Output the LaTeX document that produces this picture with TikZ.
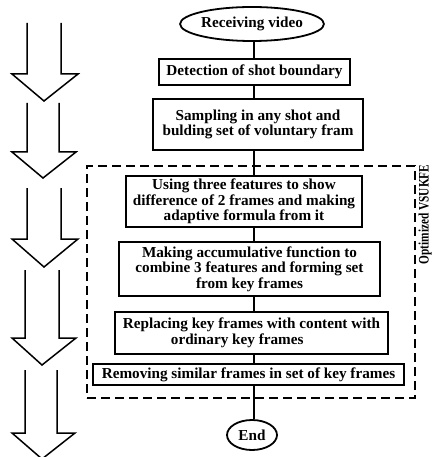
\documentclass[tikz,border=0pt]{standalone}
\usepackage{fontspec}
\setmainfont{Liberation Serif}
\usetikzlibrary{shapes.geometric}
\begin{document}
\begin{tikzpicture}[x=1pt,y=-1pt,
  every node/.style={font=\bfseries\fontsize{15.2}{15.5}\selectfont, inner sep=0pt, align=center},
  box/.style={draw, line width=1.8pt, rectangle},
  oval/.style={draw, line width=1.8pt, ellipse},
  link/.style={line width=1.8pt},
  bigarrow/.style={line width=1.5pt, line join=miter},
  group/.style={draw, line width=1.2pt, dash pattern=on 9pt off 5pt},
  grouplabel/.style={rotate=90, anchor=base, font=\bfseries\fontsize{14.5}{15}\selectfont}]
\useasboundingbox (0,0) rectangle (431,457);
\fill[white] (0,0) rectangle (431,457);
\coordinate (spine) at (254,0);

% left big arrows
\draw[bigarrow] (27,23) -- (27,74) -- (12,74) -- (44,101) -- (78,74) -- (61,74) -- (61,23);
\draw[bigarrow] (27,103) -- (27,152) -- (12,152) -- (43,178) -- (76,152) -- (59,152) -- (59,103);
\draw[bigarrow] (27,188) -- (27,239) -- (12,239) -- (44,267) -- (78,239) -- (61,239) -- (61,188);
\draw[bigarrow] (25,270) -- (25,338) -- (12,338) -- (42,365) -- (76,338) -- (59,338) -- (59,270);
\draw[bigarrow] (25,370) -- (25,433) -- (12,433) -- (42,459) -- (75,433) -- (57,433) -- (57,370);

% dashed group
\node[group, minimum width=328pt, minimum height=232pt] (grp) at (251,282) {};
\node[grouplabel] (lbl) at (428.5,214.5) {\scalebox{0.78}[1]{Optimized VSUKFE}};

% flow nodes
\node[oval, minimum width=116pt, minimum height=34pt] (start) at (252,24) {Receiving video};
\node[box, minimum width=191pt, minimum height=26pt] (b1) at (254.5,72) {Detection of shot boundary};
\node[box, minimum width=210pt, minimum height=51pt] (b2) at (258,124.5) {Sampling in any shot and\\bulding set of voluntary fram};
\node[box, minimum width=236pt, minimum height=51pt] (b3) at (244,201.5) {Using three features to show\\difference of 2 frames and making\\adaptive formula from it};
\node[box, minimum width=261pt, minimum height=54pt] (b4) at (249.5,269) {Making accumulative function to\\combine 3 features and forming set\\from key frames};
\node[box, minimum width=273pt, minimum height=42pt, align=left] (b5) at (251.5,333) {Replacing key frames with content with\\\hspace*{48pt}ordinary key frames};
\node[box, minimum width=311pt, minimum height=21pt] (b6) at (248.5,374.5) {Removing similar frames in set of key frames};
\node[oval, minimum width=50pt, minimum height=30pt] (end) at (252,435) {End};

% connectors
\draw[link] (start.south -| spine) -- (b1.north -| spine);
\draw[link] (b1.south -| spine) -- (b2.north -| spine);
\draw[link] (b2.south -| spine) -- (b3.north -| spine);
\draw[link] (b3.south -| spine) -- (b4.north -| spine);
\draw[link] (b4.south -| spine) -- (b5.north -| spine);
\draw[link] (b5.south -| spine) -- (b6.north -| spine);
\draw[link] (b6.south -| spine) -- (end.north -| spine);
\end{tikzpicture}
\end{document}
